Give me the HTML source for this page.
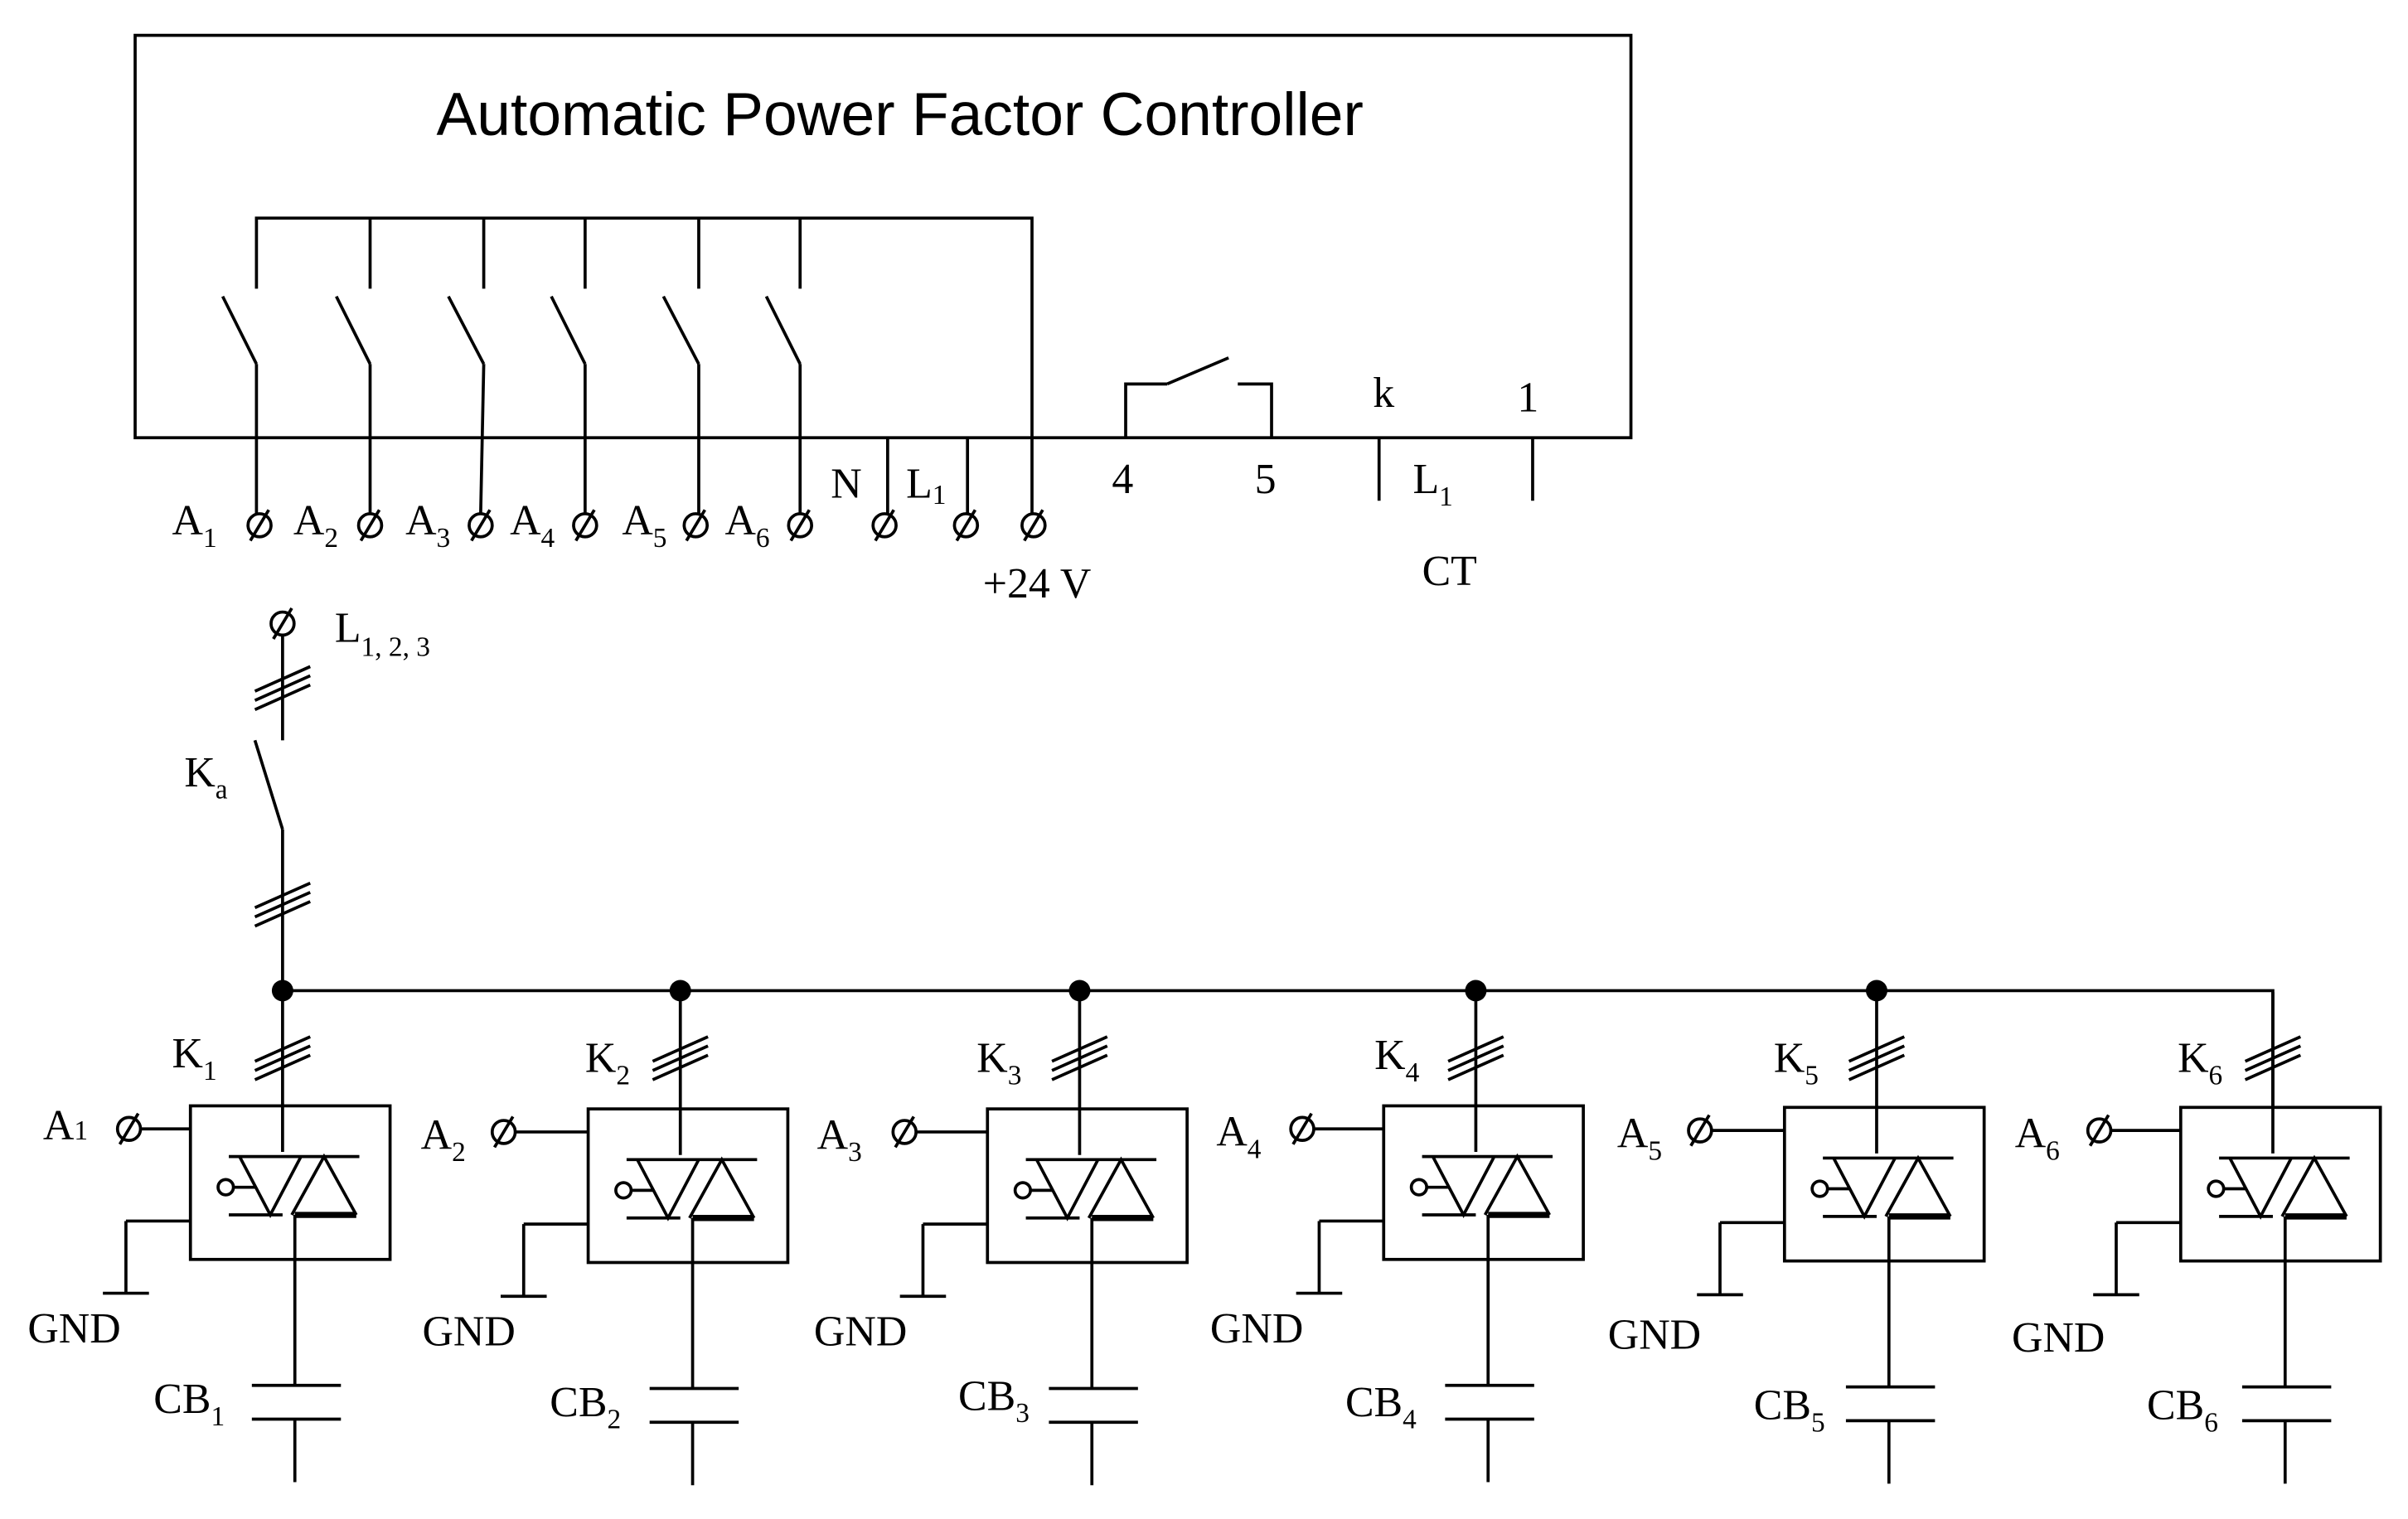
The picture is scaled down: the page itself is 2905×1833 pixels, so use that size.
<!DOCTYPE html>
<html><head><meta charset="utf-8"><style>
html,body{margin:0;padding:0;background:#fff;}
svg{display:block;}
text{font-family:"Liberation Serif",serif;font-size:28px;fill:#000;}
.sub{font-size:18px;}
</style></head><body>
<svg width="2905" height="1833" viewBox="0 0 1568 989" preserveAspectRatio="none" xmlns="http://www.w3.org/2000/svg">
<defs>
<g id="term"><circle cx="0" cy="0" r="7.5" fill="#fff" stroke="#000" stroke-width="2"/><line x1="-6" y1="10" x2="6" y2="-10" stroke="#000" stroke-width="2"/></g>
<g id="hash" stroke="#000" stroke-width="2"><line x1="-18" y1="8" x2="18" y2="-8"/><line x1="-18" y1="14" x2="18" y2="-2"/><line x1="-18" y1="20" x2="18" y2="4"/></g>
<g id="mod" stroke="#000" stroke-width="2" fill="none">
  <line x1="0" y1="0" x2="0" y2="105"/>
  <rect x="-60" y="75" width="130" height="100"/>
  <line x1="-35" y1="108" x2="50" y2="108"/>
  <line x1="-35" y1="146" x2="0" y2="146"/>
  <line x1="8" y1="146" x2="48" y2="146" stroke-width="4"/>
  <polyline points="-28,108 -8,146 12,108"/>
  <polyline points="6,146 27,108 48,146"/>
  <circle cx="-37" cy="128" r="5"/>
  <line x1="-32" y1="128" x2="-18" y2="128"/>
  <line x1="8" y1="146" x2="8" y2="257"/>
  <line x1="-20" y1="257" x2="38" y2="257"/>
  <line x1="-20" y1="279" x2="38" y2="279"/>
  <line x1="8" y1="279" x2="8" y2="320"/>
  <line x1="-60" y1="150" x2="-102" y2="150"/>
  <line x1="-102" y1="150" x2="-102" y2="197"/>
  <line x1="-117" y1="197" x2="-87" y2="197"/>
</g>
</defs>

<rect x="88" y="23" width="974" height="262" fill="none" stroke="#000" stroke-width="2"/>
<text x="586" y="88" text-anchor="middle" style="font-family:'Liberation Sans',sans-serif;font-size:39.5px">Automatic Power Factor Controller</text>

<g stroke="#000" stroke-width="2" fill="none">
<polyline points="167,188 167,142 672,142 672,334"/>
<line x1="241" y1="142" x2="241" y2="188"/><line x1="315" y1="142" x2="315" y2="188"/>
<line x1="381" y1="142" x2="381" y2="188"/><line x1="455" y1="142" x2="455" y2="188"/>
<line x1="521" y1="142" x2="521" y2="188"/>
<line x1="145" y1="193" x2="167" y2="237"/><line x1="167" y1="237" x2="167" y2="334"/>
<line x1="219" y1="193" x2="241" y2="237"/><line x1="241" y1="237" x2="241" y2="334"/>
<line x1="292" y1="193" x2="315" y2="237"/><line x1="315" y1="237" x2="313" y2="334"/>
<line x1="359" y1="193" x2="381" y2="237"/><line x1="381" y1="237" x2="381" y2="334"/>
<line x1="432" y1="193" x2="455" y2="237"/><line x1="455" y1="237" x2="455" y2="334"/>
<line x1="499" y1="193" x2="521" y2="237"/><line x1="521" y1="237" x2="521" y2="334"/>
<line x1="578" y1="285" x2="578" y2="334"/><line x1="630" y1="285" x2="630" y2="334"/>
<polyline points="733,285 733,250 760,250"/><line x1="760" y1="250" x2="800" y2="233"/>
<polyline points="806,250 828,250 828,285"/>
<line x1="898" y1="285" x2="898" y2="326"/><line x1="998" y1="285" x2="998" y2="326"/>
<line x1="184" y1="413" x2="184" y2="482"/>
<line x1="166" y1="482" x2="184" y2="540"/>
<line x1="184" y1="540" x2="184" y2="645"/>
<polyline points="184,645 1480,645 1480,720"/>
<line x1="90" y1="735" x2="124" y2="735"/>
<line x1="335" y1="737" x2="383" y2="737"/>
<line x1="596" y1="737" x2="643" y2="737"/>
<line x1="855" y1="735" x2="901" y2="735"/>
<line x1="1114" y1="736" x2="1162" y2="736"/>
<line x1="1374" y1="736" x2="1420" y2="736"/>
</g>

<use href="#term" x="169" y="342"/><use href="#term" x="241" y="342"/><use href="#term" x="313" y="342"/>
<use href="#term" x="381" y="342"/><use href="#term" x="453" y="342"/><use href="#term" x="521" y="342"/>
<use href="#term" x="576" y="342"/><use href="#term" x="629" y="342"/><use href="#term" x="673" y="342"/>
<use href="#term" x="184" y="406"/>
<use href="#hash" x="184" y="442"/><use href="#hash" x="184" y="583"/>

<text x="112" y="348">A<tspan class="sub" dy="8">1</tspan></text>
<text x="191" y="348">A<tspan class="sub" dy="8">2</tspan></text>
<text x="264" y="348">A<tspan class="sub" dy="8">3</tspan></text>
<text x="332" y="348">A<tspan class="sub" dy="8">4</tspan></text>
<text x="405" y="348">A<tspan class="sub" dy="8">5</tspan></text>
<text x="472" y="348">A<tspan class="sub" dy="8">6</tspan></text>
<text x="541" y="324">N</text>
<text x="590" y="324">L<tspan class="sub" dy="4">1</tspan></text>
<text x="640" y="389">+24 V</text>
<text x="724" y="321">4</text><text x="817" y="321">5</text>
<text x="894" y="265">k</text><text x="988" y="268">1</text>
<text x="920" y="321">L<tspan class="sub" dy="8">1</tspan></text>
<text x="926" y="381">CT</text>
<text x="218" y="418">L<tspan class="sub" dy="9">1, 2, 3</tspan></text>
<text x="120" y="512">K<tspan class="sub" dy="8">a</tspan></text>

<g fill="#000">
<circle cx="184" cy="645" r="7"/><circle cx="443" cy="645" r="7"/><circle cx="703" cy="645" r="7"/>
<circle cx="961" cy="645" r="7"/><circle cx="1222" cy="645" r="7"/>
</g>

<use href="#mod" x="184" y="645"/>
<use href="#mod" x="443" y="647"/>
<use href="#mod" x="703" y="647"/>
<use href="#mod" x="961" y="645"/>
<use href="#mod" x="1222" y="646"/>
<use href="#mod" x="1480" y="646"/>

<use href="#hash" x="184" y="683"/><use href="#hash" x="443" y="683"/><use href="#hash" x="703" y="683"/>
<use href="#hash" x="961" y="683"/><use href="#hash" x="1222" y="683"/><use href="#hash" x="1480" y="683"/>
<use href="#term" x="84" y="735"/><use href="#term" x="328" y="737"/><use href="#term" x="589" y="737"/>
<use href="#term" x="848" y="735"/><use href="#term" x="1107" y="736"/><use href="#term" x="1367" y="736"/>

<text x="112" y="695">K<tspan class="sub" dy="8">1</tspan></text>
<text x="381" y="698">K<tspan class="sub" dy="8">2</tspan></text>
<text x="636" y="698">K<tspan class="sub" dy="8">3</tspan></text>
<text x="895" y="696">K<tspan class="sub" dy="8">4</tspan></text>
<text x="1155" y="698">K<tspan class="sub" dy="8">5</tspan></text>
<text x="1418" y="698">K<tspan class="sub" dy="8">6</tspan></text>

<text x="28" y="742">A<tspan class="sub">1</tspan></text>
<text x="274" y="748">A<tspan class="sub" dy="8">2</tspan></text>
<text x="532" y="748">A<tspan class="sub" dy="8">3</tspan></text>
<text x="792" y="746">A<tspan class="sub" dy="8">4</tspan></text>
<text x="1053" y="747">A<tspan class="sub" dy="8">5</tspan></text>
<text x="1312" y="747">A<tspan class="sub" dy="8">6</tspan></text>

<text x="18" y="874">GND</text><text x="275" y="876">GND</text><text x="530" y="876">GND</text>
<text x="788" y="874">GND</text><text x="1047" y="878">GND</text><text x="1310" y="880">GND</text>

<text x="100" y="920">CB<tspan class="sub" dy="8">1</tspan></text>
<text x="358" y="922">CB<tspan class="sub" dy="8">2</tspan></text>
<text x="624" y="918">CB<tspan class="sub" dy="8">3</tspan></text>
<text x="876" y="922">CB<tspan class="sub" dy="8">4</tspan></text>
<text x="1142" y="924">CB<tspan class="sub" dy="8">5</tspan></text>
<text x="1398" y="924">CB<tspan class="sub" dy="8">6</tspan></text>
</svg>
</body></html>
